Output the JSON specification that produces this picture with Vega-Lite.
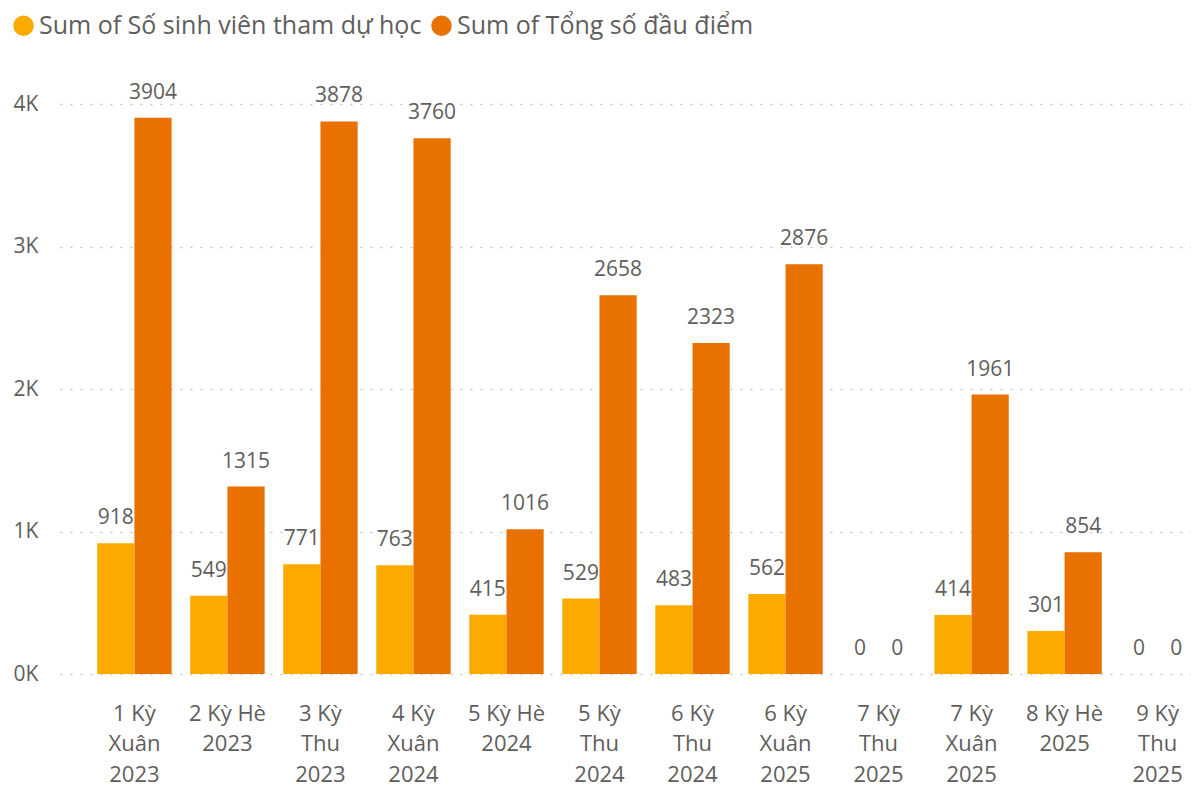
{
  "$schema": "https://vega.github.io/schema/vega-lite/v6.json",
  "width": 1131,
  "height": 624,
  "autosize": {"type": "none"},
  "padding": {"left": 60, "top": 50, "right": 0, "bottom": 115},
  "background": "white",
  "config": {"view": {"stroke": null}, "font": "Open Sans"},
  "data": {
    "values": [
      {"ky": "1 Kỳ Xuân 2023", "series": "Sum of Số sinh viên tham dự học", "value": 918},
      {"ky": "1 Kỳ Xuân 2023", "series": "Sum of Tổng số đầu điểm", "value": 3904},
      {"ky": "2 Kỳ Hè 2023", "series": "Sum of Số sinh viên tham dự học", "value": 549},
      {"ky": "2 Kỳ Hè 2023", "series": "Sum of Tổng số đầu điểm", "value": 1315},
      {"ky": "3 Kỳ Thu 2023", "series": "Sum of Số sinh viên tham dự học", "value": 771},
      {"ky": "3 Kỳ Thu 2023", "series": "Sum of Tổng số đầu điểm", "value": 3878},
      {"ky": "4 Kỳ Xuân 2024", "series": "Sum of Số sinh viên tham dự học", "value": 763},
      {"ky": "4 Kỳ Xuân 2024", "series": "Sum of Tổng số đầu điểm", "value": 3760},
      {"ky": "5 Kỳ Hè 2024", "series": "Sum of Số sinh viên tham dự học", "value": 415},
      {"ky": "5 Kỳ Hè 2024", "series": "Sum of Tổng số đầu điểm", "value": 1016},
      {"ky": "5 Kỳ Thu 2024", "series": "Sum of Số sinh viên tham dự học", "value": 529},
      {"ky": "5 Kỳ Thu 2024", "series": "Sum of Tổng số đầu điểm", "value": 2658},
      {"ky": "6 Kỳ Thu 2024", "series": "Sum of Số sinh viên tham dự học", "value": 483},
      {"ky": "6 Kỳ Thu 2024", "series": "Sum of Tổng số đầu điểm", "value": 2323},
      {"ky": "6 Kỳ Xuân 2025", "series": "Sum of Số sinh viên tham dự học", "value": 562},
      {"ky": "6 Kỳ Xuân 2025", "series": "Sum of Tổng số đầu điểm", "value": 2876},
      {"ky": "7 Kỳ Thu 2025", "series": "Sum of Số sinh viên tham dự học", "value": 0},
      {"ky": "7 Kỳ Thu 2025", "series": "Sum of Tổng số đầu điểm", "value": 0},
      {"ky": "7 Kỳ Xuân 2025", "series": "Sum of Số sinh viên tham dự học", "value": 414},
      {"ky": "7 Kỳ Xuân 2025", "series": "Sum of Tổng số đầu điểm", "value": 1961},
      {"ky": "8 Kỳ Hè 2025", "series": "Sum of Số sinh viên tham dự học", "value": 301},
      {"ky": "8 Kỳ Hè 2025", "series": "Sum of Tổng số đầu điểm", "value": 854},
      {"ky": "9 Kỳ Thu 2025", "series": "Sum of Số sinh viên tham dự học", "value": 0},
      {"ky": "9 Kỳ Thu 2025", "series": "Sum of Tổng số đầu điểm", "value": 0}
    ]
  },
  "encoding": {
    "x": {
      "field": "ky",
      "type": "nominal",
      "sort": null,
      "title": null,
      "scale": {"range": [0, 1172], "paddingInner": 0.2, "paddingOuter": 0.4},
      "axis": {
        "labelExpr": "split(datum.label, ' ')[2] == 'Hè' ? [split(datum.label, ' ')[0] + ' ' + split(datum.label, ' ')[1] + ' ' + split(datum.label, ' ')[2], split(datum.label, ' ')[3]] : [split(datum.label, ' ')[0] + ' ' + split(datum.label, ' ')[1], split(datum.label, ' ')[2], split(datum.label, ' ')[3]]",
        "domain": false,
        "ticks": false,
        "tickSize": 0,
        "labelAngle": 0,
        "labelPadding": 29,
        "labelFontSize": 22,
        "labelLineHeight": 30.5,
        "labelColor": "#605E5C",
        "labelBaseline": "top",
        "labelOverlap": false,
        "labelLimit": 0
      }
    },
    "xOffset": {
      "field": "series",
      "type": "nominal",
      "sort": ["Sum of Số sinh viên tham dự học", "Sum of Tổng số đầu điểm"],
      "scale": {"paddingInner": 0, "paddingOuter": 0}
    },
    "y": {
      "field": "value",
      "type": "quantitative",
      "title": null,
      "scale": {"domain": [0, 4379], "nice": false},
      "axis": {
        "values": [0, 1000, 2000, 3000, 4000],
        "labelExpr": "(datum.value / 1000) + 'K'",
        "domain": false,
        "ticks": false,
        "tickSize": 0,
        "labelAlign": "left",
        "labelPadding": 47,
        "labelFontSize": 21,
        "labelColor": "#605E5C",
        "gridColor": "#C8C6C4",
        "gridDash": [2, 8],
        "gridWidth": 1.5
      }
    }
  },
  "layer": [
    {
      "mark": {"type": "bar"},
      "encoding": {
        "color": {
          "field": "series",
          "type": "nominal",
          "scale": {
            "domain": ["Sum of Số sinh viên tham dự học", "Sum of Tổng số đầu điểm"],
            "range": ["#FDAA00", "#E87100"]
          },
          "legend": {
            "orient": "none",
            "legendX": -49,
            "legendY": -37,
            "direction": "horizontal",
            "title": null,
            "symbolType": "circle",
            "symbolSize": 420,
            "symbolStrokeWidth": 0,
            "labelFontSize": 25,
            "labelColor": "#605E5C",
            "labelOffset": 3,
            "columnPadding": 7,
            "labelLimit": 600
          }
        }
      }
    },
    {
      "mark": {"type": "text", "dy": -19, "baseline": "alphabetic", "fontSize": 21, "color": "#605E5C"},
      "encoding": {
        "text": {"field": "value", "type": "quantitative", "format": "d"}
      }
    }
  ]
}
